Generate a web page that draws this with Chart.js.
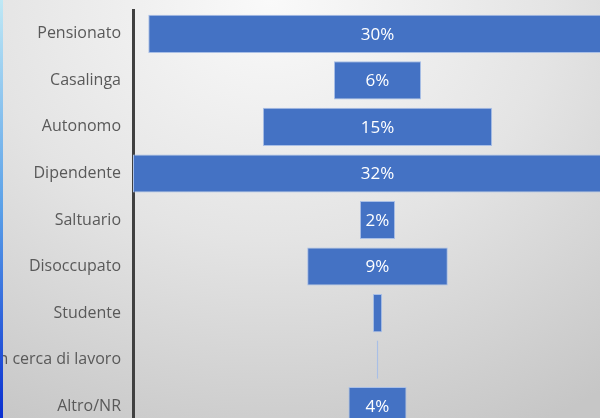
<!DOCTYPE html>
<html>
<head>
<meta charset="utf-8">
<script src="https://cdn.jsdelivr.net/npm/chart.js@4"></script>
<style>
  html, body { margin: 0; padding: 0; overflow: hidden; }
  body {
    width: 600px; height: 418px; position: relative;
    background: radial-gradient(ellipse 95% 115% at 45% 0%, #fafafa 0%, #e4e4e4 50%, #c6c6c6 100%);
  }
  #stripe {
    position: absolute; left: 0; top: 0; width: 3px; height: 418px; z-index: 2;
    background: linear-gradient(180deg, #bfe8f5 0%, #5aa0e8 50%, #0a2fd0 100%);
  }
  #wrap { position: absolute; left: 0; top: -11px; width: 622px; height: 462px; }
</style>
</head>
<body>
<div id="stripe"></div>
<div id="wrap"><canvas id="myChart"></canvas></div>
<script>
'use strict';
// categories, top to bottom
let categories = ['Pensionato', 'Casalinga', 'Autonomo', 'Dipendente', 'Saltuario', 'Disoccupato', 'Studente', 'In cerca di lavoro', 'Altro/NR'];
// share in percent
let values = [30, 5.7, 15, 32, 2.3, 9.2, 0.6, 0.1, 3.8];
// text printed on the bars
let barLabels = ['30%', '6%', '15%', '32%', '2%', '9%', '', '', '4%'];

// bars are centred on zero, like a funnel
let funnelData = values.map(v => [-v / 2, v / 2]);

const labelPlugin = {
  id: 'barText',
  afterDatasetsDraw(chart) {
    let ctx = chart.ctx;
    let meta = chart.getDatasetMeta(0);
    ctx.save();
    ctx.fillStyle = '#ffffff';
    ctx.font = '17px "Open Sans"';
    ctx.textAlign = 'center';
    ctx.textBaseline = 'middle';
    meta.data.forEach((bar, i) => {
      if (!barLabels[i]) return;
      let cx = chart.scales.x.getPixelForValue(0);
      ctx.fillText(barLabels[i], cx, bar.y + 1);
    });
    ctx.restore();
  }
};

let ctx = document.getElementById('myChart');
let myChart = new Chart(ctx, {
  type: 'bar',
  data: {
    labels: categories,
    datasets: [{
      data: funnelData,
      backgroundColor: '#4472C4',
      borderColor: '#a9bfe6',
      borderWidth: 1,
      borderSkipped: false,
      categoryPercentage: 1,
      barPercentage: 0.82
    }]
  },
  options: {
    indexAxis: 'y',
    responsive: true,
    maintainAspectRatio: false,
    animation: false,
    layout: { padding: 0 },
    plugins: {
      legend: { display: false },
      tooltip: { enabled: false }
    },
    scales: {
      x: {
        display: false,
        min: -16,
        max: 16
      },
      y: {
        grid: { display: false, drawTicks: false },
        border: { display: true, color: '#404040', width: 3 },
        ticks: {
          color: '#595959',
          font: { family: 'Open Sans', size: 16 },
          padding: 12
        },
        afterFit(scale) { scale.width = 133; }
      }
    }
  },
  plugins: [labelPlugin]
});
</script>
</body>
</html>
